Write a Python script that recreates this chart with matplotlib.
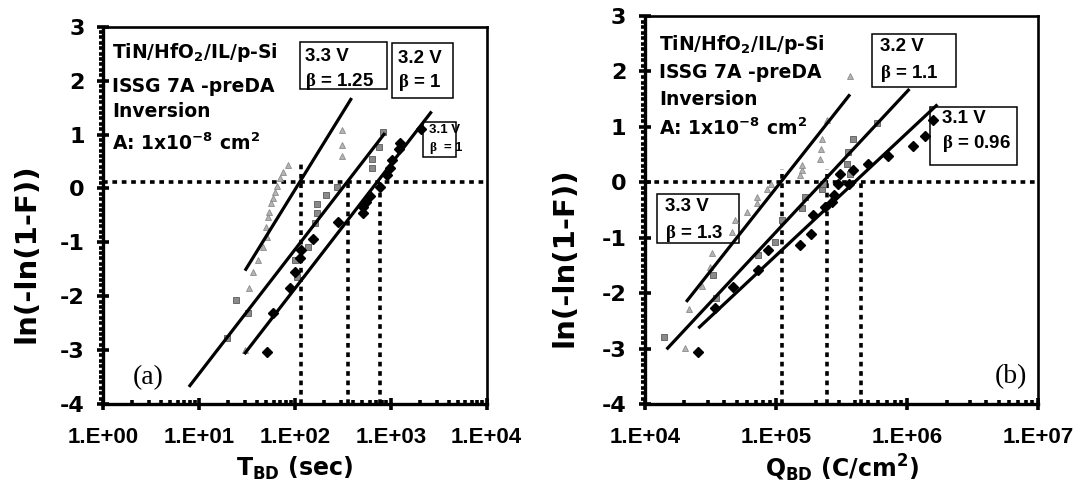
import numpy as np
import matplotlib
matplotlib.use("Agg")
import matplotlib.pyplot as plt
from matplotlib.patches import Rectangle
from matplotlib.ticker import (FuncFormatter, LogLocator, MultipleLocator,
                               NullFormatter)

plt.rcParams['font.family'] = 'Liberation Sans'
plt.rcParams['font.weight'] = 'bold'
plt.rcParams['mathtext.fontset'] = 'custom'
plt.rcParams['mathtext.bf'] = 'DejaVu Sans:bold'
plt.rcParams['mathtext.rm'] = 'Liberation Serif'
plt.rcParams['mathtext.it'] = 'DejaVu Sans:bold'
plt.rcParams['mathtext.default'] = 'bf'

# ---------------- (a) time to breakdown T_BD (s) ----------------
tbd_33 = [85.1, 75.5, 69.7, 65.3, 61.8, 58.5, 55.7, 53.6, 51.9, 49.8, 50.7,
          46.7, 41.4, 36.7, 33.3, 30.1, 307, 307, 307]
wa_33 = [0.43, 0.31, 0.19, 0.05, -0.06, -0.17, -0.28, -0.43, -0.53, -0.71,
         -0.90, -1.08, -1.32, -1.55, -1.85, -3.00, 0.60, 0.81, 1.08]

tbd_32 = [19.4, 24.0, 32.6, 100, 104, 138, 162, 168, 171, 210, 272,
          631, 631, 757, 820]
wa_32 = [-2.78, -2.07, -2.32, -1.33, -1.64, -1.08, -0.65, -0.45, -0.29,
         -0.12, 0.03, 0.37, 0.54, 0.77, 1.05]

tbd_31 = [50.7, 59.4, 88.7, 100, 113, 116, 155, 283, 517, 517, 551, 607,
          771, 904, 980, 1021, 1225, 1245, 2090]
wa_31 = [-3.04, -2.32, -1.85, -1.55, -1.30, -1.15, -0.93, -0.62, -0.46,
         -0.34, -0.25, -0.15, 0.03, 0.25, 0.37, 0.53, 0.74, 0.84, 1.10]

# Weibull fits: eta (characteristic value), beta, plotted range
fit_a_label = ['3.3 V', '3.2 V', '3.1 V']
fit_a_eta = [102, 311, 640]
fit_a_beta = [1.25, 1.0, 1.0]
fit_a_lo = [30.1, 7.83, 29.6]
fit_a_hi = [390, 869, 2667]

guide_a_level = 0.12
guide_a_x = [115, 355, 771]
guide_a_top = [0.47, 0.12, 0.12]

# ---------------- (b) charge to breakdown Q_BD (C/cm^2) ----------------
qbd_33 = [2.02e4, 2.18e4, 2.70e4, 3.13e4, 3.23e4, 4.58e4, 4.86e4, 5.97e4,
          7.11e4, 7.19e4, 8.47e4, 9.10e4, 1.52e5, 1.57e5, 1.57e5, 2.16e5,
          2.19e5, 2.23e5, 2.43e5, 3.66e5]
wb_33 = [-2.99, -2.29, -1.87, -1.53, -1.28, -0.89, -0.68, -0.53, -0.38,
         -0.26, -0.11, -0.02, 0.13, 0.22, 0.31, 0.43, 0.61, 0.79, 1.12, 1.91]

qbd_32 = [1.40e4, 3.45e4, 3.32e4, 7.31e4, 9.82e4, 1.10e5, 1.57e5, 1.66e5,
          2.23e5, 2.29e5, 3.66e5, 3.46e5, 3.56e5, 3.88e5, 5.85e5]
wb_32 = [-2.78, -2.09, -1.67, -1.31, -1.07, -0.67, -0.47, -0.26, -0.11,
         -0.02, 0.16, 0.34, 0.55, 0.79, 1.07]

qbd_31 = [2.55e4, 3.42e4, 4.72e4, 7.31e4, 8.73e4, 1.52e5, 1.84e5, 1.92e5,
          2.36e5, 2.65e5, 2.74e5, 2.99e5, 3.62e5, 3.07e5, 3.88e5, 5.05e5,
          7.18e5, 1.11e6, 1.37e6, 1.58e6]
wb_31 = [-3.05, -2.27, -1.88, -1.58, -1.22, -1.13, -0.93, -0.59, -0.44,
         -0.35, -0.23, -0.02, -0.02, 0.16, 0.22, 0.34, 0.48, 0.66, 0.84, 1.12]

fit_b_label = ['3.3 V', '3.2 V', '3.1 V']
fit_b_eta = [1.08e5, 2.25e5, 3.94e5]
fit_b_beta = [1.3, 1.1, 0.96]
fit_b_lo = [2.06e4, 1.46e4, 2.55e4]
fit_b_hi = [3.66e5, 1.04e6, 1.70e6]

guide_b_level = 0.01
guide_b_x = [1.11e5, 2.43e5, 4.42e5]
guide_b_top = [0.25, 0.25, 0.01]

LABEL_FONT = 'DejaVu Sans'
DOT = (0, (1.3, 1.3))


def style_axes(ax, xmin, xmax):
    ax.set_xscale('log')
    ax.set_xlim(xmin, xmax)
    ax.set_ylim(-4, 3)
    ax.xaxis.set_major_locator(LogLocator(base=10, numticks=10))
    ax.xaxis.set_minor_locator(LogLocator(base=10, subs=np.arange(2, 10),
                                          numticks=40))
    ax.xaxis.set_major_formatter(
        FuncFormatter(lambda v, p: f"1.E{int(round(np.log10(v))):+03d}"))
    ax.xaxis.set_minor_formatter(NullFormatter())
    ax.yaxis.set_major_locator(MultipleLocator(1))
    ax.yaxis.set_minor_locator(MultipleLocator(0.1))
    ax.yaxis.set_major_formatter(FuncFormatter(lambda v, p: f"{int(round(v))}"))
    for side in ('left', 'bottom'):
        ax.spines[side].set_linewidth(2.4)
    for side in ('top', 'right'):
        ax.spines[side].set_linewidth(1.9)
    ax.tick_params(which='major', direction='inout', length=9, width=2.6)
    ax.tick_params(axis='x', which='major', pad=12, labelsize=16)
    ax.tick_params(axis='y', which='major', pad=9, labelsize=16,
                   labelfontfamily=LABEL_FONT)
    ax.tick_params(axis='x', which='minor', direction='in', length=3, width=2.6)
    ax.tick_params(axis='y', which='minor', direction='out', length=3, width=2.6)


def draw_series(ax, xs, ys, kind):
    if kind == 0:
        ax.plot(xs, ys, ls='none', marker='^', ms=4.5, mfc='#b4b4b4',
                mec='#8c8c8c', mew=0.6, zorder=3)
    elif kind == 1:
        ax.plot(xs, ys, ls='none', marker='s', ms=4.0, mfc='#8a8a8a',
                mec='#5a5a5a', mew=0.6, zorder=3)
    else:
        ax.plot(xs, ys, ls='none', marker='D', ms=4.6, color='black', zorder=3)


def draw_fits(ax, etas, betas, los, his):
    for eta, beta, lo, hi in zip(etas, betas, los, his):
        t = np.logspace(np.log10(lo), np.log10(hi), 50)
        ax.plot(t, beta * np.log(t / eta), color='black', lw=2.3,
                solid_capstyle='butt', zorder=4)


def draw_guides(ax, level, xs, tops, xmin, xmax):
    ax.plot([xmin, xmax], [level, level], color='black', lw=2.6, ls=DOT,
            zorder=2)
    for x, top in zip(xs, tops):
        ax.plot([x, x], [-4, top], color='black', lw=2.6, ls=DOT, zorder=2)


def box(ax, x0, y0, x1, y1, lines, ys, xt, size):
    ax.add_patch(Rectangle((x0, y0), x1 - x0, y1 - y0, transform=ax.transAxes,
                           facecolor='white', edgecolor='black', lw=1.1,
                           zorder=1.5))
    for txt, yy in zip(lines, ys):
        ax.text(xt, yy, txt, transform=ax.transAxes, fontsize=size,
                fontweight='bold', va='center', ha='left', zorder=1.6)


def info_block(ax, x, ys, size):
    lines = ['TiN/HfO$_2$/IL/p-Si', 'ISSG 7A -preDA', 'Inversion',
             'A: 1x10$^{-8}$ cm$^2$']
    for txt, yy in zip(lines, ys):
        ax.text(x, yy, txt, transform=ax.transAxes, fontsize=size,
                fontweight='bold', family=LABEL_FONT, va='baseline', ha='left')


fig = plt.figure(figsize=(10.87, 4.90), dpi=100)
ax_a = fig.add_axes([0.0950, 0.1755, 0.3527, 0.7700])
ax_b = fig.add_axes([0.5934, 0.1749, 0.3618, 0.7925])

# ---- panel (a)
style_axes(ax_a, 1, 1e4)
draw_guides(ax_a, guide_a_level, guide_a_x, guide_a_top, 1, 1e4)
draw_series(ax_a, tbd_33, wa_33, 0)
draw_series(ax_a, tbd_32, wa_32, 1)
draw_series(ax_a, tbd_31, wa_31, 2)
draw_fits(ax_a, fit_a_eta, fit_a_beta, fit_a_lo, fit_a_hi)
info_block(ax_a, 0.023, [0.916, 0.827, 0.760, 0.673], 13.5)
box(ax_a, 0.513, 0.834, 0.739, 0.960,
    [fit_a_label[0], rf'$\mathrm{{\beta}}$ = {fit_a_beta[0]:g}'],
    [0.920, 0.854], 0.526, 13.5)
box(ax_a, 0.752, 0.810, 0.913, 0.956,
    [fit_a_label[1], rf'$\mathrm{{\beta}}$ = {fit_a_beta[1]:g}'],
    [0.917, 0.851], 0.769, 13.5)
box(ax_a, 0.834, 0.655, 0.920, 0.747,
    [fit_a_label[2], rf'$\mathrm{{\beta}}$  = {fit_a_beta[2]:g}'],
    [0.726, 0.679], 0.850, 9.5)
ax_a.text(0.117, 0.069, '(a)', transform=ax_a.transAxes, fontsize=20,
          family='Liberation Serif', fontweight='normal', ha='center',
          va='center')
ax_a.set_xlabel('T$_{BD}$ (sec)', family=LABEL_FONT, fontsize=17,
                fontweight='bold')
ax_a.xaxis.set_label_coords(0.5, -0.135)
ax_a.set_ylabel('ln(-ln(1-F))', family=LABEL_FONT, fontsize=21,
                fontweight='bold')
ax_a.yaxis.set_label_coords(-0.165, 0.40)

# ---- panel (b)
style_axes(ax_b, 1e4, 1e7)
draw_guides(ax_b, guide_b_level, guide_b_x, guide_b_top, 1e4, 1e7)
draw_series(ax_b, qbd_33, wb_33, 0)
draw_series(ax_b, qbd_32, wb_32, 1)
draw_series(ax_b, qbd_31, wb_31, 2)
draw_fits(ax_b, fit_b_eta, fit_b_beta, fit_b_lo, fit_b_hi)
info_block(ax_b, 0.036, [0.912, 0.839, 0.771, 0.693], 13.5)
box(ax_b, 0.576, 0.818, 0.791, 0.954,
    [fit_b_label[1], rf'$\mathrm{{\beta}}$ = {fit_b_beta[1]:g}'],
    [0.921, 0.852], 0.598, 13.5)
box(ax_b, 0.725, 0.617, 0.946, 0.766,
    [fit_b_label[2], rf'$\mathrm{{\beta}}$ = {fit_b_beta[2]:g}'],
    [0.737, 0.672], 0.754, 13.5)
box(ax_b, 0.031, 0.415, 0.239, 0.542,
    [fit_b_label[0], rf'$\mathrm{{\beta}}$ = {fit_b_beta[0]:g}'],
    [0.509, 0.440], 0.051, 13.5)
ax_b.text(0.930, 0.072, '(b)', transform=ax_b.transAxes, fontsize=20,
          family='Liberation Serif', fontweight='normal', ha='center',
          va='center')
ax_b.set_xlabel('Q$_{BD}$ (C/cm$^2$)', family=LABEL_FONT, fontsize=17,
                fontweight='bold')
ax_b.xaxis.set_label_coords(0.5, -0.125)
ax_b.set_ylabel('ln(-ln(1-F))', family=LABEL_FONT, fontsize=21,
                fontweight='bold')
ax_b.yaxis.set_label_coords(-0.168, 0.38)

fig.savefig('out.png', dpi=100)
